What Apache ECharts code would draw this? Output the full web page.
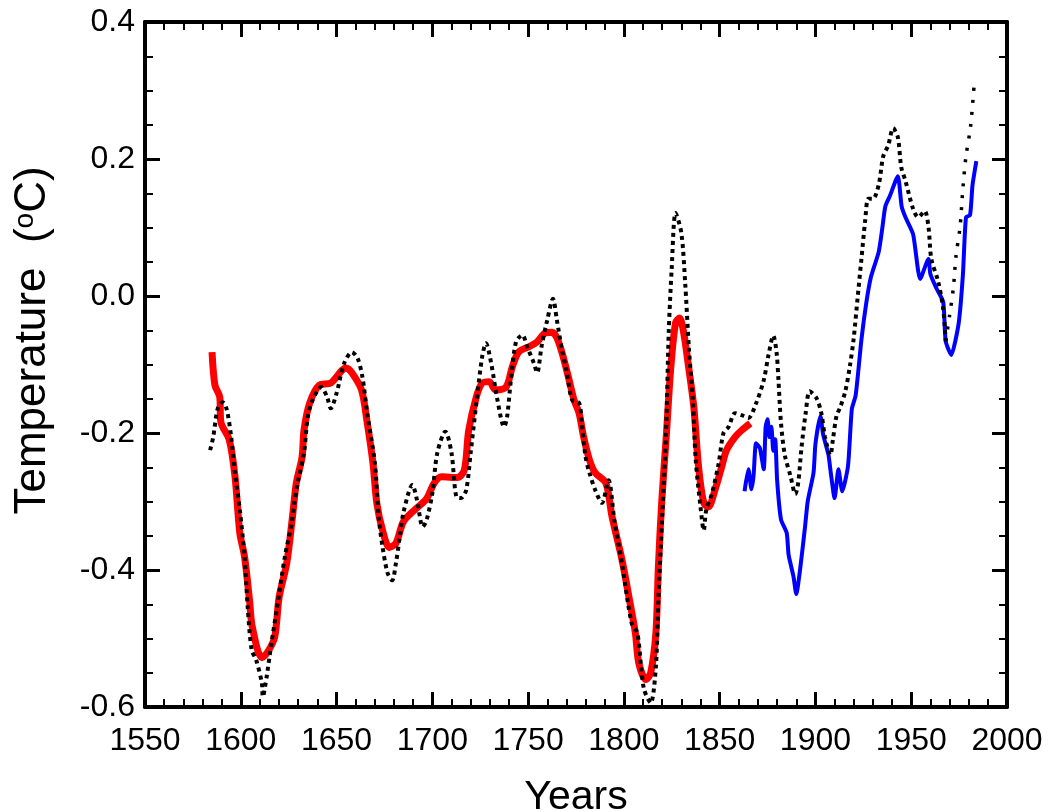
<!DOCTYPE html>
<html>
<head>
<meta charset="utf-8">
<script src="https://cdn.jsdelivr.net/npm/echarts@6/dist/echarts.min.js"></script>
<style>
  html, body { margin: 0; padding: 0; background: #fff; }
  #chart { width: 1053px; height: 812px; }
</style>
</head>
<body>
<div id="chart"></div>
<script>
// year ticks / temperature ticks
const xTicks = [1550, 2000, 50];
const yTicks = [-0.6, 0.4, 0.2];

// red: reconstruction (thick)
const redLine = [
  [1585, -0.082], [1586.5, -0.130], [1589, -0.147], [1589.6, -0.184], [1594, -0.210],
  [1597, -0.264], [1599.5, -0.346], [1602, -0.381], [1604.7, -0.448], [1606, -0.483],
  [1611, -0.528], [1614, -0.520], [1617.7, -0.498], [1620, -0.440], [1624, -0.390],
  [1627, -0.322], [1629, -0.273], [1632, -0.235], [1633, -0.196], [1636, -0.156],
  [1641, -0.130], [1647, -0.127], [1655, -0.105], [1658, -0.112], [1663, -0.137],
  [1666, -0.185], [1669, -0.244], [1671, -0.302], [1674, -0.342], [1677.6, -0.367],
  [1681, -0.361], [1685, -0.329], [1691.7, -0.310], [1697, -0.296], [1701, -0.273],
  [1704.7, -0.264], [1713, -0.265], [1716.7, -0.254], [1719, -0.196], [1723, -0.147],
  [1726, -0.127], [1729.7, -0.125], [1733, -0.137], [1738.5, -0.133], [1741.7, -0.104],
  [1745, -0.082], [1750.5, -0.074], [1754.7, -0.067], [1759, -0.054], [1762.5, -0.053],
  [1765, -0.061], [1767.7, -0.083], [1771, -0.118], [1774, -0.152], [1776.6, -0.171],
  [1779, -0.206], [1782, -0.239], [1785, -0.258], [1790.6, -0.273], [1793.8, -0.322],
  [1799, -0.385], [1803.6, -0.454], [1806, -0.492], [1807.8, -0.536], [1811.5, -0.560],
  [1814, -0.550], [1816.7, -0.492], [1818, -0.396], [1819.8, -0.298], [1822, -0.210],
  [1824.5, -0.104], [1827, -0.039], [1829, -0.032], [1831, -0.050], [1833.8, -0.104],
  [1836.5, -0.162], [1839, -0.250], [1841.7, -0.302], [1844, -0.308], [1848, -0.279],
  [1851, -0.250], [1853.6, -0.225], [1858, -0.206], [1861.5, -0.196], [1866, -0.186]
];

// blue: instrumental record
const blueLine = [
  [1863, -0.285], [1865, -0.253], [1866.6, -0.282], [1867.7, -0.262], [1869, -0.215],
  [1871, -0.222], [1873, -0.253], [1874, -0.191], [1875, -0.180], [1876, -0.206],
  [1877, -0.191], [1878, -0.226], [1879, -0.209], [1880, -0.269], [1882, -0.326],
  [1885, -0.346], [1886, -0.378], [1888.5, -0.409], [1890, -0.435], [1892, -0.399],
  [1894.6, -0.336], [1896, -0.299], [1899, -0.258], [1900, -0.216], [1902.6, -0.175],
  [1904, -0.202], [1906.8, -0.232], [1908, -0.258], [1910, -0.295], [1912, -0.253],
  [1914, -0.285], [1917, -0.248], [1919, -0.165], [1921, -0.145], [1924, -0.064],
  [1926.6, -0.009], [1929, 0.028], [1933, 0.064], [1935, 0.101], [1936.5, 0.131],
  [1939, 0.147], [1943, 0.175], [1945, 0.131], [1947, 0.115], [1951, 0.090],
  [1954.7, 0.025], [1959, 0.054], [1960, 0.032], [1963, 0.012], [1966.7, -0.009],
  [1968, -0.066], [1971, -0.086], [1973, -0.066], [1975, -0.035], [1977, 0.032],
  [1978.6, 0.115], [1980.7, 0.118], [1982, 0.162], [1984, 0.197]
];

// black dotted: model / proxy series
const blackLine = [
  [1584, -0.225], [1585.6, -0.206], [1588, -0.164], [1590.6, -0.155], [1592.7, -0.166],
  [1595, -0.206], [1597, -0.259], [1599.5, -0.312], [1602, -0.381], [1603.6, -0.454],
  [1605.7, -0.517], [1608, -0.531], [1611, -0.565], [1611.5, -0.585], [1613.5, -0.556],
  [1616, -0.507], [1619, -0.454], [1623, -0.381], [1626.6, -0.331], [1628, -0.302],
  [1629.7, -0.273], [1633, -0.229], [1635, -0.176], [1637.5, -0.152], [1642, -0.133],
  [1645, -0.147], [1647, -0.164], [1650, -0.142], [1654, -0.098], [1658, -0.082],
  [1661, -0.091], [1663.5, -0.118], [1666, -0.171], [1670, -0.244], [1672, -0.323],
  [1674, -0.366], [1676.6, -0.404], [1679, -0.415], [1681, -0.390], [1683, -0.352],
  [1685, -0.315], [1689.6, -0.276], [1692, -0.298], [1695, -0.337], [1697, -0.327],
  [1700, -0.288], [1702.6, -0.229], [1706.8, -0.198], [1710, -0.229], [1712.5, -0.293],
  [1715, -0.295], [1717.7, -0.283], [1720, -0.229], [1723, -0.156], [1726, -0.089],
  [1728, -0.069], [1730.7, -0.098], [1734, -0.152], [1737.5, -0.191], [1739, -0.177],
  [1741, -0.123], [1743.7, -0.067], [1747, -0.057], [1749.5, -0.074], [1753, -0.098],
  [1754.7, -0.112], [1757, -0.074], [1760, -0.035], [1763, -0.004], [1765, -0.035],
  [1767.7, -0.079], [1770, -0.108], [1773, -0.152], [1776.6, -0.156], [1778, -0.185],
  [1780, -0.235], [1782, -0.258], [1785, -0.283], [1788.5, -0.302], [1792, -0.269],
  [1795, -0.327], [1799, -0.390], [1804, -0.477], [1807, -0.492], [1809, -0.541],
  [1810.6, -0.575], [1814, -0.594], [1816.7, -0.541], [1818, -0.444], [1820, -0.323],
  [1822, -0.200], [1823.4, -0.054], [1825, 0.042], [1827, 0.121], [1830, 0.092],
  [1832, 0.019], [1834, -0.079], [1836, -0.152], [1837.5, -0.239], [1840, -0.308],
  [1841.7, -0.342], [1843, -0.312], [1846, -0.288], [1849.5, -0.244], [1852, -0.200],
  [1854.7, -0.191], [1858, -0.171], [1861.5, -0.174], [1865, -0.178], [1868.7, -0.159],
  [1873, -0.123], [1875.5, -0.086], [1878, -0.058], [1879.7, -0.082], [1880.7, -0.123],
  [1882, -0.185], [1884, -0.232], [1887, -0.263], [1889.5, -0.289], [1891, -0.273],
  [1892.7, -0.222], [1895, -0.169], [1897, -0.139], [1900.5, -0.149], [1903, -0.170],
  [1905, -0.206], [1907.8, -0.232], [1909, -0.212], [1911, -0.175], [1913, -0.162],
  [1915.6, -0.139], [1918, -0.102], [1920, -0.061], [1922, -0.003], [1924, 0.054],
  [1926, 0.111], [1927.6, 0.142], [1930, 0.142], [1933, 0.162], [1935.4, 0.204],
  [1938, 0.220], [1940.6, 0.245], [1943, 0.232], [1944.8, 0.188], [1947, 0.168],
  [1951, 0.127], [1953.6, 0.115], [1957, 0.124], [1959, 0.101], [1960.5, 0.054],
  [1964, 0.022], [1966.7, -0.019], [1968, -0.066], [1970, -0.029], [1972, 0.012],
  [1973.4, 0.059], [1975.5, 0.101], [1977, 0.158], [1978.6, 0.204], [1981, 0.248],
  [1983, 0.314]
];
// year where the dotted line thins out
const sparseFrom = 1968;

const FONT = '"Liberation Sans", Arial, Helvetica, sans-serif';

function frameAxis(pos, isX, withLabels) {
  const t = isX ? xTicks : yTicks;
  return {
    type: 'value',
    position: pos,
    min: t[0],
    max: t[1],
    interval: t[2],
    axisLine: { show: true, onZero: false, lineStyle: { color: '#000', width: 4 } },
    axisTick: { show: true, inside: true, length: 15, lineStyle: { color: '#000', width: 3 } },
    minorTick: { show: true, splitNumber: isX ? 5 : 4, length: 8, lineStyle: { color: '#000', width: 2 } },
    splitLine: { show: false },
    axisLabel: {
      show: withLabels,
      color: '#000',
      fontFamily: FONT,
      fontSize: 32,
      margin: isX ? 18 : 10,
      formatter: isX ? (v) => String(v) : (v) => v.toFixed(1)
    }
  };
}

const chart = echarts.init(document.getElementById('chart'), null, { renderer: 'canvas' });

const xBottom = Object.assign(frameAxis('bottom', true, true), {
  name: 'Years',
  nameLocation: 'middle',
  nameGap: 70,
  nameTextStyle: { color: '#000', fontFamily: FONT, fontSize: 41 }
});
const yLeft = Object.assign(frameAxis('left', false, true), {
  name: 'Temperature  ({sup|o}C)',
  nameLocation: 'middle',
  nameRotate: 90,
  nameGap: 90,
  nameTextStyle: {
    color: '#000', fontFamily: FONT, fontSize: 44,
    padding: [0, 0, 0, 48],
    rich: { sup: { fontFamily: FONT, fontSize: 28, color: '#000', verticalAlign: 'top', padding: [0, 0, 16, 0] } }
  }
});

const option = {
  backgroundColor: '#ffffff',
  animation: false,
  grid: { left: 145, right: 46, top: 22, bottom: 105, outerBoundsMode: 'none', containLabel: false },
  xAxis: [xBottom, frameAxis('top', true, false)],
  yAxis: [yLeft, frameAxis('right', false, false)],
  series: [
    {
      type: 'line', data: redLine, showSymbol: false, smooth: 0.3,
      lineStyle: { color: '#ff0000', width: 7 }, z: 2
    },
    {
      type: 'line', data: blueLine, showSymbol: false, smooth: 0.2,
      lineStyle: { color: '#0000ff', width: 4 }, z: 3
    },
    {
      type: 'line', data: blackLine.filter(p => p[0] <= sparseFrom), showSymbol: false, smooth: 0.3,
      lineStyle: { color: '#000', width: 4, type: 'dotted' }, z: 4
    },
    {
      type: 'line', data: blackLine.filter(p => p[0] >= sparseFrom), showSymbol: false, smooth: 0.3,
      lineStyle: { color: '#000', width: 3.5, type: [3, 9] }, z: 4
    }
  ]
};

chart.setOption(option);
</script>
</body>
</html>
